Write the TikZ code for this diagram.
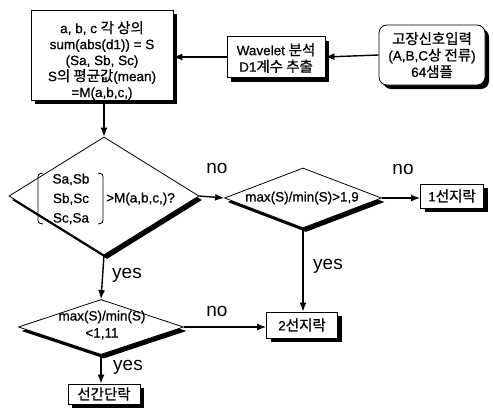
\documentclass[tikz,border=0pt]{standalone}
\usepackage{fontspec}
\setmainfont{Liberation Sans}
\newfontfamily\boxf[FakeBold=0.7]{Liberation Sans}
\newfontfamily\krf[Scale=1.07,FakeBold=0.7]{Noto Sans CJK KR}
\newcommand\kr[1]{{\krf #1}}
\usetikzlibrary{arrows.meta,shapes.geometric,shadows}
\begin{document}
\begin{tikzpicture}[x=1pt,y=-1pt,
  boxtext/.style={font=\boxf\fontsize{13.5}{16.5}\selectfont,align=center},
  procbox/.style={draw,thick,fill=white,inner sep=0,boxtext,
    drop shadow={shadow xshift=4pt,shadow yshift=-4pt,fill=black,opacity=1}},
  decis/.style={draw,thick,diamond,fill=white,inner sep=0,
    drop shadow={shadow xshift=3pt,shadow yshift=-4pt,fill=black,opacity=1}},
  flow/.style={line width=1.4pt,-{Latex[length=9pt,width=7pt]}},
  lbl/.style={font=\fontsize{19}{21}\selectfont,inner sep=0}]
\useasboundingbox (0,0) rectangle (493,415);
% boxes
\node[procbox,minimum width=142pt,minimum height=90pt,font=\boxf\fontsize{13.5}{16}\selectfont] (calc) at (102,55)
  {\rule{0pt}{23pt}a, b, c \kr{각 상의}\\sum(abs(d1)) = S\\(Sa, Sb, Sc)\\S\kr{의 평균값}(mean)\\=M(a,b,c,)};
\node[procbox,minimum width=98pt,minimum height=41pt] (wav) at (276,57)
  {\rule{0pt}{14pt}Wavelet \kr{분석}\\D1\kr{계수 추출}};
\node[procbox,rounded corners=8pt,minimum width=106pt,minimum height=60pt] (inp) at (432,55)
  {\kr{고장신호입력}\\(A,B,C\kr{상 전류})\\64\kr{샘플}};
% decisions
\node[decis,minimum width=190pt,minimum height=118pt] (d1) at (104,196) {};
\node[decis,minimum width=157pt,minimum height=60pt] (d2) at (303,198) {};
\node[decis,minimum width=165pt,minimum height=55pt] (d3) at (101,327) {};
% decision texts
\node[boxtext,inner sep=0,font=\boxf\fontsize{13.5}{19.5}\selectfont] (d1pairs) at (71,199) {Sa,Sb\\Sb,Sc\\Sc,Sa};
\draw[thick] (43,173) .. controls (38,174) .. (38,180) -- (38,217) .. controls (38,223) .. (43,224);
\draw[thick] (98,173) .. controls (103,174) .. (103,180) -- (103,217) .. controls (103,223) .. (98,224);
\node[boxtext,inner sep=0,anchor=west] (d1cmp) at (106,199) {>M(a,b,c,)?};
\node[boxtext,inner sep=0] (d2t) at (302,198) {max(S)/min(S)>1,9};
\node[boxtext,inner sep=0,font=\boxf\fontsize{13.5}{17}\selectfont] (d3t) at (102,325) {max(S)/min(S)\\<1,11};
% result boxes
\node[procbox,minimum width=63pt,minimum height=24pt] (r1) at (452,196) {1\kr{선지락}};
\node[procbox,minimum width=71pt,minimum height=26pt] (r2) at (302,325) {2\kr{선지락}};
\node[procbox,minimum width=72pt,minimum height=20pt] (r3) at (104,394) {\kr{선간단락}};
% connectors
\draw[flow] (inp.west) -- (wav.east);
\draw[flow] (wav.west) -- (wav.west -| calc.east);
\draw[flow] (calc.south -| d1.north) -- (d1.north);
\draw[flow] (d1.east) -- (d2.west);
\draw[flow] (d2.east) -- (d2.east -| r1.west);
\draw[flow] (d2.south) -- (d2.south |- r2.north);
\draw[flow] (d1.south) -- (d3.north);
\draw[flow] (d3.east) -- (d3.east -| r2.west);
\draw[flow] (d3.south) -- (d3.south |- r3.north);
% labels
\node[lbl] (no1) at (217,168) {no};
\node[lbl] (no2) at (403,169) {no};
\node[lbl] (yes1) at (328,266) {yes};
\node[lbl] (yes2) at (127,275) {yes};
\node[lbl] (no3) at (217,311) {no};
\node[lbl] (yes3) at (128,367) {yes};
\end{tikzpicture}
\end{document}
